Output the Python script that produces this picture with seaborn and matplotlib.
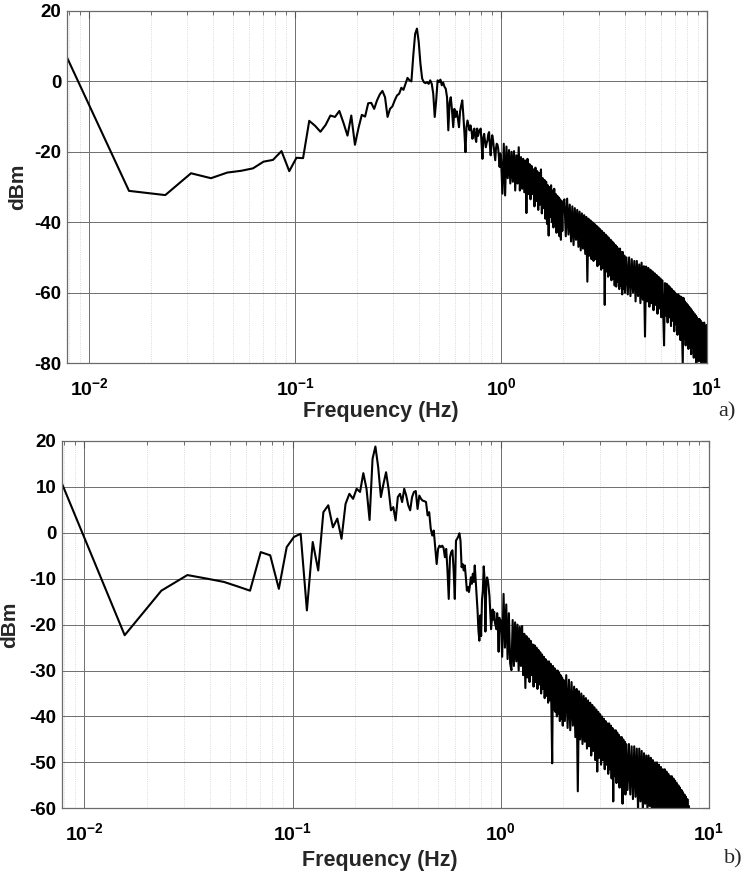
import numpy as np
import pandas as pd
import matplotlib
matplotlib.use("Agg")
import matplotlib.pyplot as plt
import seaborn as sns
from matplotlib.ticker import FixedLocator, FuncFormatter, NullFormatter

# ---------------- data (dBm) ----------------
# frequency segments (Hz): bins of 1/128 Hz up to 1 Hz, then coarser read-outs
SEGMENTS = [(1 / 128, 1.0), (1 + 1 / 64, 2.0), (2 + 1 / 32, 4.0), (4 + 1 / 16, 10.0)]

TOP_DBM_0_1HZ = [
    6.8, -31.1, -32.3, -26.1, -27.5, -25.9, -25.4, -24.7, -22.8, -22.3,
    -19.8, -25.5, -21.7, -21.8, -11.2, -12.6, -14.3, -12.4, -9.7, -10.1,
    -8.4, -11.8, -15.4, -9.7, -18.0, -13.3, -9.5, -10.0, -6.2, -6.1,
    -7.8, -5.4, -3.7, -2.7, -4.5, -10.1, -7.8, -7.1, -5.4, -4.0,
    -3.5, -1.8, -2.4, -0.7, 1.0, 0.3, 0.0, 7.4, 13.5, 15.0,
    11.2, 5.0, 0.8, -0.2, -0.5, -0.2, -0.7, 0.3, -0.7, -3.5,
    -10.1, -5.4, 0.3, -0.2,
    0.5, -1.1, -0.3, -1.5, -2.1, -4.5, -13.9, -6.0, -4.5, -8.2,
    -13.0, -7.8, -10.1, -8.5, -10.5, -13.0, -8.5, -6.8, -5.4, -9.7,
    -14.5, -20.1, -13.0, -11.1, -12.5, -13.9, -12.5, -14.0, -16.3, -14.5,
    -13.4, -16.0, -17.2, -13.4, -15.5, -14.4, -13.8, -13.4, -17.5, -22.0,
    -16.0, -14.9, -17.0, -18.7, -17.5, -16.8, -15.0, -14.4, -18.0, -21.0,
    -17.5, -15.3, -16.5, -18.7, -20.5, -22.4, -19.0, -17.7, -18.0, -19.1,
    -21.5, -24.3, -20.5, -22.0,
]
TOP_DBM_1_2HZ = [
    -31.9, -17.7, -32.4, -18.5, -27.5, -19.5, -29.0, -20.0, -28.5, -19.8,
    -31.0, -21.0, -29.0, -18.7, -31.0, -21.5, -30.5, -22.0, -31.5, -22.5,
    -37.4, -22.0, -32.0, -23.5, -33.5, -24.0, -32.0, -25.0, -35.5, -24.5,
    -34.0, -25.5, -36.5, -26.0, -35.0, -25.0, -37.5, -27.5, -36.0, -28.0,
    -39.0, -28.5, -40.5, -29.5, -43.8, -30.0, -38.5, -29.5, -40.0, -31.0,
    -41.5, -30.5, -39.5, -32.0, -43.0, -32.5, -41.0, -33.0, -44.0, -33.5,
    -45.0, -34.0, -42.5, -34.5,
]
TOP_DBM_2_4HZ = [
    -33.5, -44.0, -33.3, -43.5, -35.0, -45.5, -35.5, -46.5, -36.0, -45.0,
    -36.5, -47.0, -37.0, -48.0, -37.5, -47.5, -38.0, -49.0, -38.5, -56.9,
    -39.0, -49.5, -39.5, -50.5, -40.0, -51.0, -40.5, -50.5, -41.0, -52.5,
    -41.5, -52.0, -42.0, -53.5, -42.5, -53.0, -43.0, -63.5, -43.5, -54.0,
    -44.0, -55.5, -44.5, -55.0, -45.0, -56.5, -45.5, -56.0, -46.0, -58.0,
    -46.5, -58.3, -47.0, -57.0, -47.5, -59.0, -47.5, -58.0, -48.5, -60.5,
    -48.5, -59.0, -49.5, -60.0,
]
TOP_DBM_4_10HZ = [
    -50.0, -60.5, -50.0, -61.0, -50.5, -60.0, -51.0, -62.5, -51.0, -61.0,
    -52.0, -63.0, -51.5, -62.0, -52.5, -72.5, -52.6, -62.5, -53.0, -64.0,
    -53.5, -63.0, -54.0, -65.0, -54.5, -63.5, -55.0, -66.0, -55.5, -64.5,
    -56.0, -67.0, -56.5, -65.0, -75.0, -57.3, -66.5, -57.5, -68.5, -58.0,
    -67.0, -58.5, -69.5, -59.0, -68.0, -59.5, -71.0, -60.0, -69.0, -60.5,
    -72.0, -60.5, -70.0, -61.0, -73.5, -61.2, -71.5, -80.5, -61.5, -73.0,
    -62.5, -75.0, -63.0, -73.5, -63.5, -76.0, -64.0, -74.5, -64.5, -77.5,
    -65.0, -75.5, -65.5, -78.5, -66.0, -76.0, -66.5, -80.5, -67.0, -77.0,
    -67.5, -79.5, -67.5, -77.5, -68.0, -80.5, -68.5, -78.0, -69.0, -80.5,
    -68.5, -78.5, -69.5, -80.5, -69.2, -75.0,
]

BOT_DBM_0_1HZ = [
    10.7, -22.3, -12.6, -9.2, -10.0, -10.7, -11.7, -12.6, -4.2, -4.9,
    -12.2, -3.1, -0.9, -0.2, -16.9, -2.0, -8.2, 4.5, 6.0, 1.2,
    3.1, -1.3, 6.3, 8.5, 7.4, 9.6, 8.9, 13.0, 9.6, 2.8,
    16.1, 18.8, 14.3, 7.8, 10.7, 13.2, 9.6, 4.9, 5.6, 2.7,
    7.8, 8.5, 6.7, 9.6, 8.1, 6.0, 4.9, 7.8, 8.9, 9.1,
    5.2, 8.1, 7.4, 7.0, 6.9, 6.7, 3.8, 4.5, 0.9, -0.6,
    0.5, -3.1, -6.8, -3.5, -2.8, -3.1, -2.8, -3.3, -5.3, -3.5,
    -8.2, -14.4, -5.3, -4.2, -3.8, -8.2, -14.4, -1.7, -1.3, -0.8,
    -0.1, -1.7, -7.5, -6.8, -8.2, -7.1, -9.7, -12.6, -11.8, -12.9,
    -11.5, -9.7, -11.1, -8.9, -10.7, -7.1, -10.4, -13.3, -16.9, -21.3,
    -23.5, -18.0, -22.5, -14.5, -12.6, -7.3, -10.0, -21.5, -11.5, -9.7,
    -10.4, -12.0, -13.9, -17.5, -21.0, -18.9, -16.7, -18.9, -17.2, -19.6,
    -20.3, -21.0, -17.5, -20.5, -25.9, -18.5, -21.3, -19.0,
]
BOT_DBM_1_2HZ = [
    -27.0, -13.3, -25.0, -15.6, -27.5, -17.5, -28.5, -29.9, -19.0, -29.0,
    -19.5, -28.0, -20.0, -30.0, -20.5, -29.0, -20.3, -31.0, -22.0, -33.8,
    -22.5, -31.5, -23.0, -32.5, -23.5, -31.0, -24.3, -33.5, -24.5, -32.5,
    -25.0, -34.0, -25.5, -33.0, -26.0, -35.0, -26.5, -34.0, -27.0, -36.0,
    -27.5, -35.5, -28.0, -37.0, -28.0, -36.5, -28.5, -38.0, -50.2, -29.0,
    -38.5, -29.5, -39.0, -30.0, -40.0, -30.0, -39.5, -30.5, -41.0, -31.0,
    -40.5, -31.5, -42.0, -32.0,
]
BOT_DBM_2_4HZ = [
    -41.0, -31.0, -42.5, -32.0, -43.0, -32.5, -42.0, -33.5, -44.5, -34.0,
    -56.3, -34.5, -45.0, -35.0, -46.0, -35.5, -45.5, -36.0, -47.0, -36.5,
    -46.5, -37.0, -48.5, -37.5, -47.5, -38.0, -49.5, -38.5, -52.0, -39.0,
    -49.0, -39.5, -50.5, -40.0, -49.5, -40.5, -51.5, -41.0, -50.5, -41.5,
    -52.5, -41.5, -51.5, -42.0, -53.5, -42.5, -58.5, -43.0, -53.0, -43.0,
    -54.5, -43.5, -53.5, -44.0, -55.5, -44.5, -54.0, -44.5, -59.0, -45.0,
    -55.0, -45.5, -57.0, -46.0,
]
BOT_DBM_4_10HZ = [
    -56.0, -46.0, -57.0, -46.5, -58.0, -46.5, -57.5, -47.0, -60.5, -47.0,
    -58.5, -47.5, -61.0, -48.0, -59.0, -48.5, -60.5, -48.5, -59.5, -49.0,
    -61.5, -49.5, -60.0, -50.0, -62.0, -50.0, -60.5, -50.5, -62.5, -51.0,
    -61.0, -51.5, -63.0, -51.5, -61.5, -52.0, -63.5, -52.5, -62.0, -53.0,
    -64.0, -53.0, -62.5, -53.5, -64.5, -54.0, -63.0, -54.5, -65.0, -55.0,
    -63.5, -55.5, -65.5, -56.0, -64.0, -56.5, -66.0, -57.0, -64.5, -57.5,
    -66.5, -58.0, -65.0, -59.5, -67.0, -60.5, -66.0, -61.0, -68.0, -61.5,
    -67.0, -62.0, -69.0, -62.5, -68.0, -62.5, -69.5, -63.0, -68.5, -63.5,
    -70.0, -64.0, -69.0, -64.5, -70.5, -64.5, -69.5, -65.0, -71.0, -65.5,
    -70.0, -66.0, -71.5, -66.0, -70.5, -66.5,
]

TOP_YTICKS = [-80, -60, -40, -20, 0, 20]
BOT_YTICKS = [-60, -50, -40, -30, -20, -10, 0, 10, 20]
X_MAJOR = [1e-2, 1e-1, 1e0, 1e1]
X_LABEL = "Frequency (Hz)"
Y_LABEL = "dBm"
PANEL_TAGS = ["a)", "b)"]


def build_frame(segments_values):
    freqs, vals = [], []
    for (f0, f1), v in zip(SEGMENTS, segments_values):
        freqs.append(np.linspace(f0, f1, len(v)))
        vals.append(np.asarray(v, dtype=float))
    return pd.DataFrame({"freq": np.concatenate(freqs), "dbm": np.concatenate(vals)})


top_df = build_frame([TOP_DBM_0_1HZ, TOP_DBM_1_2HZ, TOP_DBM_2_4HZ, TOP_DBM_4_10HZ])
bot_df = build_frame([BOT_DBM_0_1HZ, BOT_DBM_1_2HZ, BOT_DBM_2_4HZ, BOT_DBM_4_10HZ])

# ---------------- style ----------------
sns.set_theme(style="white")
plt.rcParams["font.family"] = ["Liberation Sans", "DejaVu Sans"]
plt.rcParams["font.weight"] = "bold"
plt.rcParams["mathtext.fontset"] = "custom"
plt.rcParams["mathtext.rm"] = "Liberation Sans:bold"
plt.rcParams["mathtext.bf"] = "Liberation Sans:bold"
plt.rcParams["mathtext.it"] = "Liberation Sans:bold"

fig = plt.figure(figsize=(7.44, 8.75), dpi=100)
ax_top = fig.add_axes([67 / 744, 1 - 363 / 875, 640 / 744, 352 / 875])
ax_bot = fig.add_axes([62 / 744, 1 - 808.3 / 875, 647 / 744, 367.3 / 875])

minor_pos = [m * 10.0 ** e for e in range(-3, 1) for m in range(2, 10)]
minor_pos = [p for p in minor_pos if 1 / 128 < p < 10]


def style_axis(ax, df, yticks, ylab_x, xlab_y):
    sns.lineplot(data=df, x="freq", y="dbm", ax=ax, color="black", lw=1.5,
                 estimator=None, sort=False)
    ax.set_xscale("log")
    ax.set_xlim(1 / 128, 10)
    ax.set_ylim(yticks[0], yticks[-1])
    ax.xaxis.set_major_locator(FixedLocator(X_MAJOR))
    ax.xaxis.set_minor_locator(FixedLocator(minor_pos))
    ax.xaxis.set_major_formatter(
        FuncFormatter(lambda v, p: r"$\mathbf{10^{%d}}$" % int(round(np.log10(v)))))
    ax.xaxis.set_minor_formatter(NullFormatter())
    ax.set_yticks(yticks)
    ax.set_yticklabels([str(t) for t in yticks])
    ax.grid(which="major", color="#6e6e6e", lw=0.7, ls="-")
    ax.grid(which="minor", axis="x", color="#cfcfcf", lw=0.6, ls=":")
    ax.set_axisbelow(True)
    for s in ax.spines.values():
        s.set_color("#6a6a6a")
        s.set_linewidth(0.9)
    ax.tick_params(which="both", direction="in", top=True, right=True,
                   colors="#555555", labelcolor="black")
    ax.tick_params(which="major", length=5, width=0.8)
    ax.tick_params(which="minor", length=3, width=0.6)
    ax.tick_params(axis="x", which="major", pad=10, labelsize=14)
    ax.tick_params(axis="y", which="major", pad=4, labelsize=13.5)
    for lab in ax.get_xticklabels() + ax.get_yticklabels():
        lab.set_fontweight("bold")
    ax.set_xlabel(X_LABEL, fontsize=15.5, fontweight="bold")
    ax.set_ylabel(Y_LABEL, fontsize=15, fontweight="bold")
    ax.xaxis.set_label_coords(0.491, xlab_y)
    ax.yaxis.set_label_coords(ylab_x, 0.5)


style_axis(ax_top, top_df, TOP_YTICKS, -0.0625, -0.108)
style_axis(ax_bot, bot_df, BOT_YTICKS, -0.066, -0.1135)

fig.text(727 / 744, 1 - 412 / 875, PANEL_TAGS[0], family="Liberation Serif",
         fontweight="normal", fontsize=16, ha="center", va="center")
fig.text(733 / 744, 1 - 859 / 875, PANEL_TAGS[1], family="Liberation Serif",
         fontweight="normal", fontsize=16, ha="center", va="center")

fig.savefig("out.png", dpi=100)
